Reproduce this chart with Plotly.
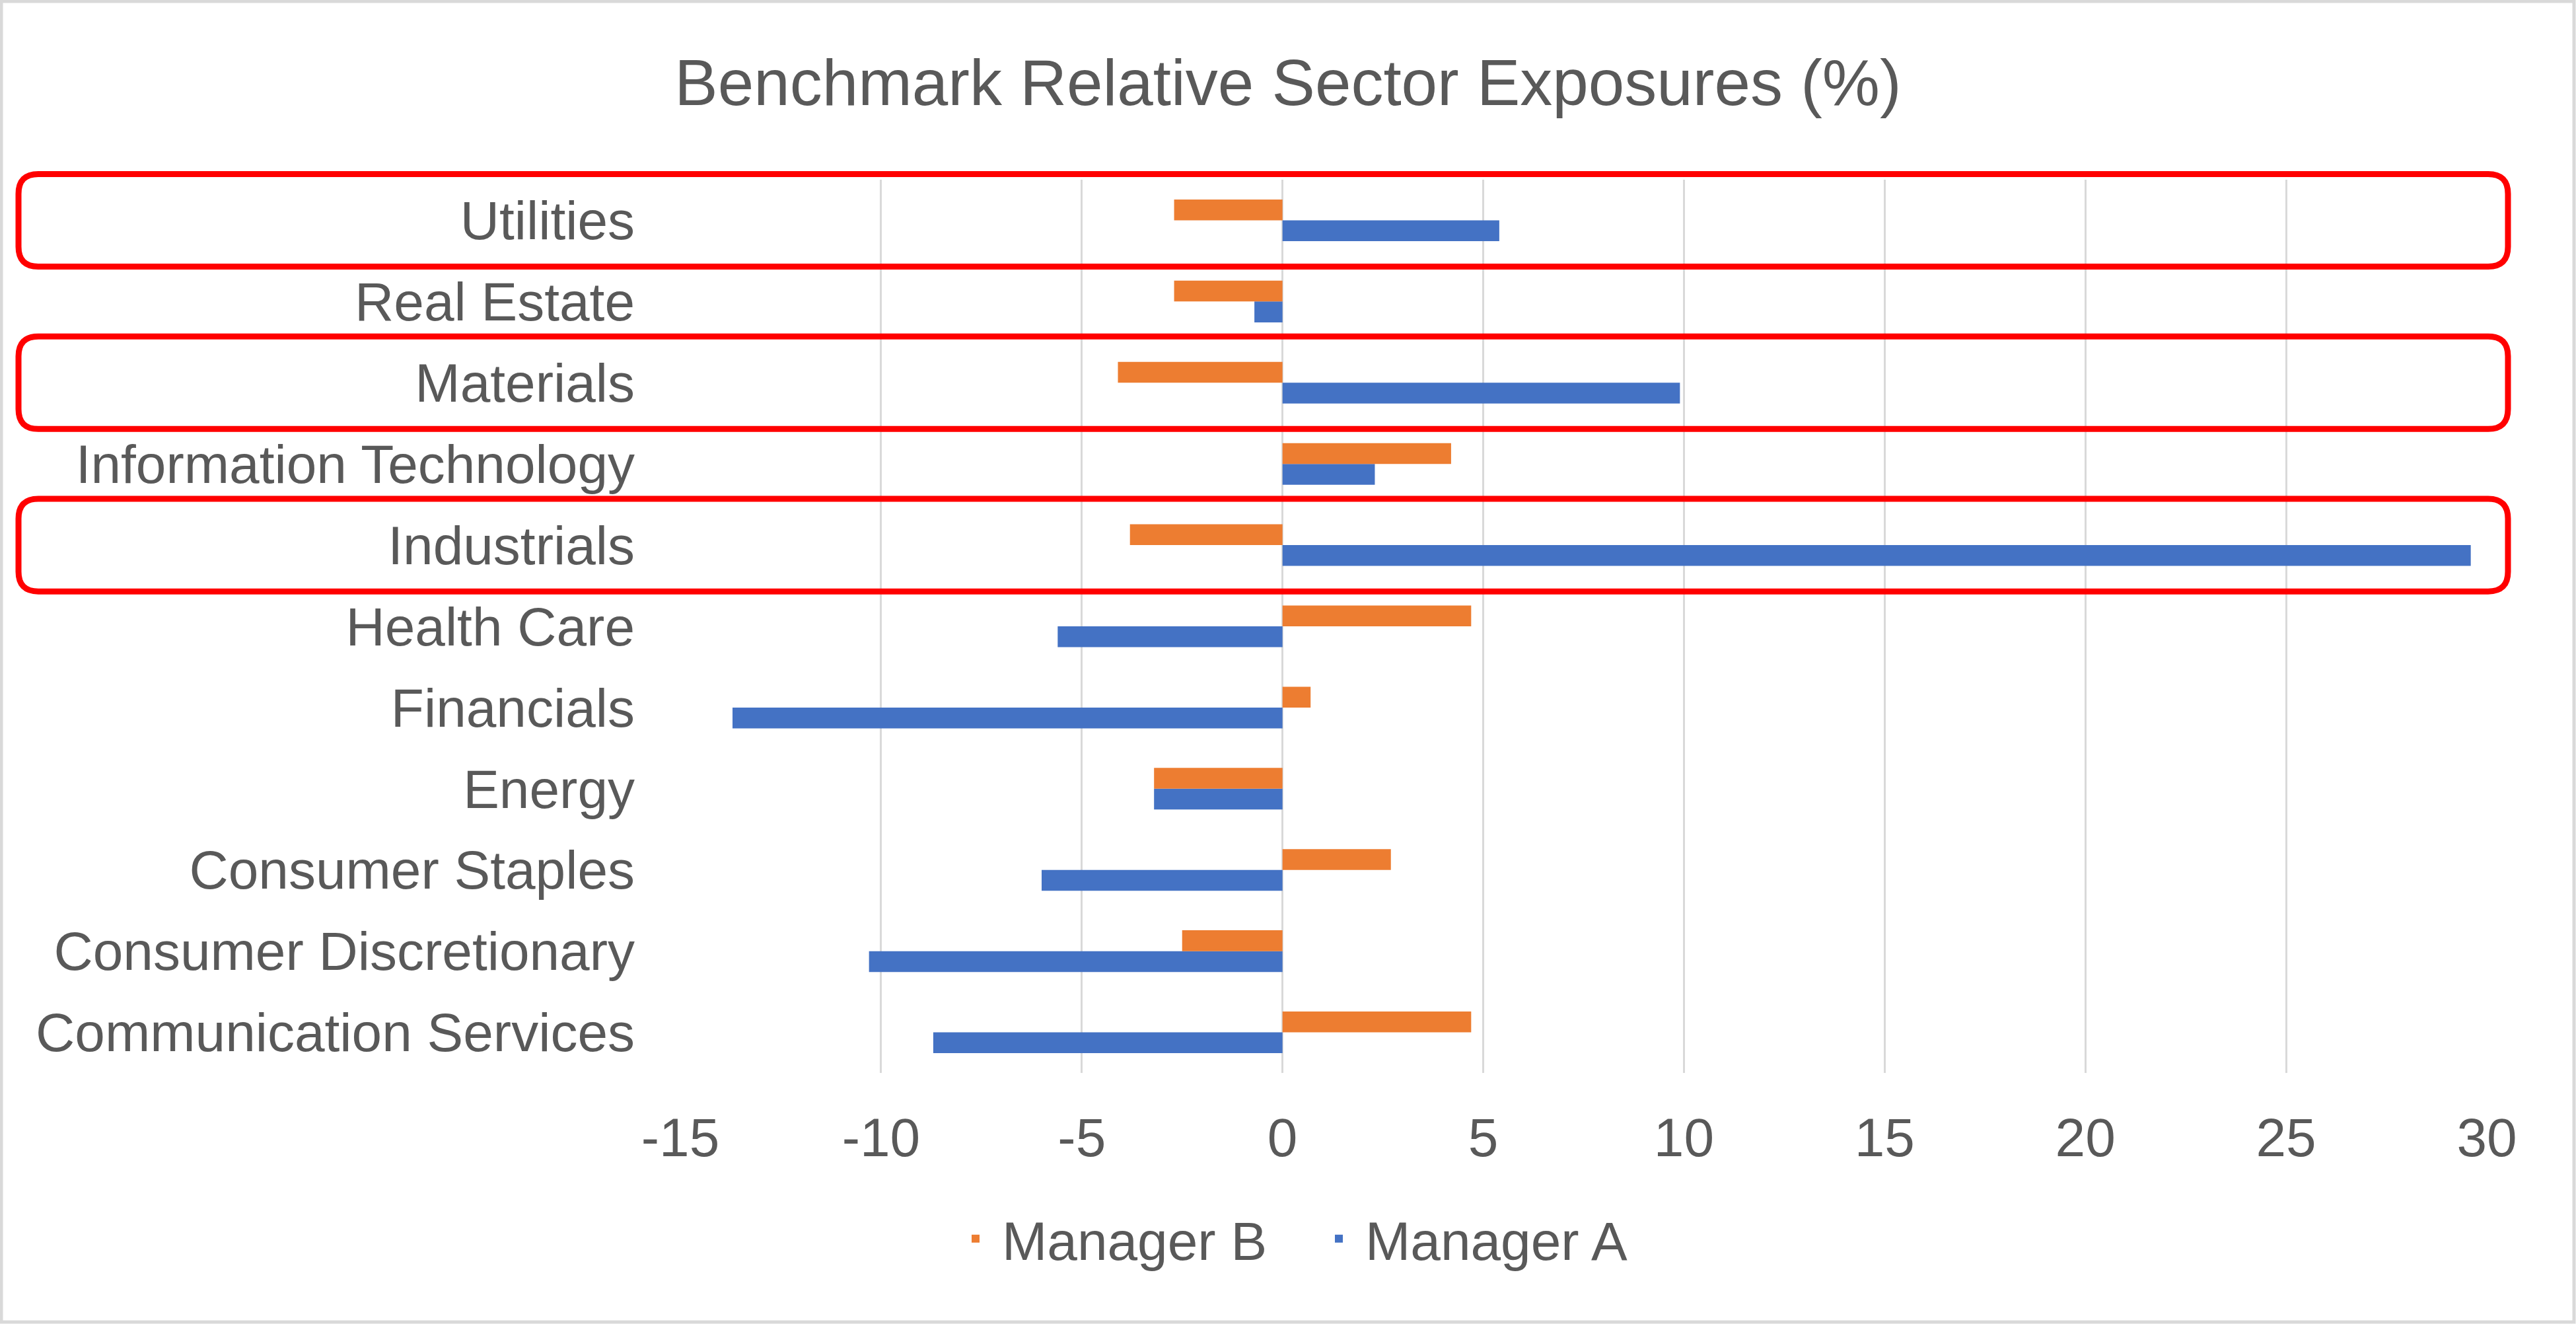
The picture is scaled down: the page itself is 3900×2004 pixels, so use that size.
import plotly.graph_objects as go

# ---- data ----
categories = [
    "Communication Services",
    "Consumer Discretionary",
    "Consumer Staples",
    "Energy",
    "Financials",
    "Health Care",
    "Industrials",
    "Information Technology",
    "Materials",
    "Real Estate",
    "Utilities",
]
manager_a = [-8.7, -10.3, -6.0, -3.2, -13.7, -5.6, 29.6, 2.3, 9.9, -0.7, 5.4]
manager_b = [4.7, -2.5, 2.7, -3.2, 0.7, 4.7, -3.8, 4.2, -4.1, -2.7, -2.7]
highlighted = ["Utilities", "Materials", "Industrials"]
x_ticks = [-15, -10, -5, 0, 5, 10, 15, 20, 25, 30]
title_text = "Benchmark Relative Sector Exposures (%)"

# ---- layout geometry ----
W, H = 3900, 2004
ML, MR, MT, MB = 1030, 135, 272, 380
PW, PH = W - ML - MR, H - MT - MB

FONT = "Arial, Liberation Sans, sans-serif"
TXT = "#595959"
ORANGE = "#ED7D31"
BLUE = "#4472C4"
GRID = "#D9D9D9"

fig = go.Figure()
fig.add_trace(go.Bar(
    y=categories, x=manager_a, orientation="h", name="Manager A",
    marker=dict(color=BLUE, line=dict(width=0)), legendrank=2,
))
fig.add_trace(go.Bar(
    y=categories, x=manager_b, orientation="h", name="Manager B",
    marker=dict(color=ORANGE, line=dict(width=0)), legendrank=1,
))


def rounded_rect(x0, x1, y0, y1, r_px):
    rx = r_px / PW
    ry = r_px / PH
    return (
        f"M {x0 + rx} {y1} L {x1 - rx} {y1} Q {x1} {y1} {x1} {y1 - ry} "
        f"L {x1} {y0 + ry} Q {x1} {y0} {x1 - rx} {y0} "
        f"L {x0 + rx} {y0} Q {x0} {y0} {x0} {y0 + ry} "
        f"L {x0} {y1 - ry} Q {x0} {y1} {x0 + rx} {y1} Z"
    )


n = len(categories)
shapes = []
box_x0 = (28 - ML) / PW
box_x1 = (3797 - ML) / PW
half = 0.57
for cat in highlighted:
    i = categories.index(cat)
    yc0 = (i - half + 0.5) / n
    yc1 = (i + half + 0.5) / n
    shapes.append(dict(
        type="path", xref="paper", yref="paper",
        path=rounded_rect(box_x0, box_x1, yc0, yc1, 30),
        line=dict(color="#FF0000", width=9), fillcolor="rgba(0,0,0,0)",
        layer="above",
    ))

# chart outer border
shapes.append(dict(
    type="rect", xref="paper", yref="paper",
    x0=(2 - ML) / PW, x1=(W - 3 - ML) / PW,
    y0=-(MB - 3) / PH, y1=(PH + MT - 2) / PH,
    line=dict(color=GRID, width=5), fillcolor="rgba(0,0,0,0)",
))

fig.update_layout(
    width=W, height=H,
    margin=dict(l=ML, r=MR, t=MT, b=MB, pad=0),
    paper_bgcolor="white", plot_bgcolor="white",
    font=dict(family=FONT, color=TXT, size=82),
    title=dict(
        text=title_text, x=0.5, xanchor="center", xref="container",
        y=1 - 125 / H, yanchor="middle", yref="container",
        font=dict(family=FONT, size=98, color=TXT),
    ),
    barmode="group", bargap=0.487, bargroupgap=0,
    showlegend=True,
    legend=dict(
        orientation="h", x=0.5 + 37 / W, xanchor="center", xref="container",
        y=1 - 1875 / H, yanchor="middle", yref="container",
        font=dict(family=FONT, size=82, color=TXT),
        traceorder="normal", itemwidth=70,
        entrywidth=465, entrywidthmode="pixels",
    ),
    shapes=shapes,
)
fig.update_xaxes(
    range=[x_ticks[0], x_ticks[-1]], tickmode="array", tickvals=x_ticks,
    ticktext=[str(v) for v in x_ticks],
    showgrid=True, gridcolor=GRID, gridwidth=3,
    zeroline=False, showline=False, ticks="",
    ticklabelstandoff=43,
    tickfont=dict(family=FONT, size=82, color=TXT),
)
fig.update_yaxes(
    type="category", categoryorder="array", categoryarray=categories,
    range=[-0.5, n - 0.5],
    showgrid=False, zeroline=False, showline=False, ticks="",
    ticklabelstandoff=68,
    tickfont=dict(family=FONT, size=82, color=TXT),
)

fig.write_html(
    "out.html",
    config={"displayModeBar": False},
    post_script="document.body.style.margin='0';document.body.style.overflow='hidden';",
)
